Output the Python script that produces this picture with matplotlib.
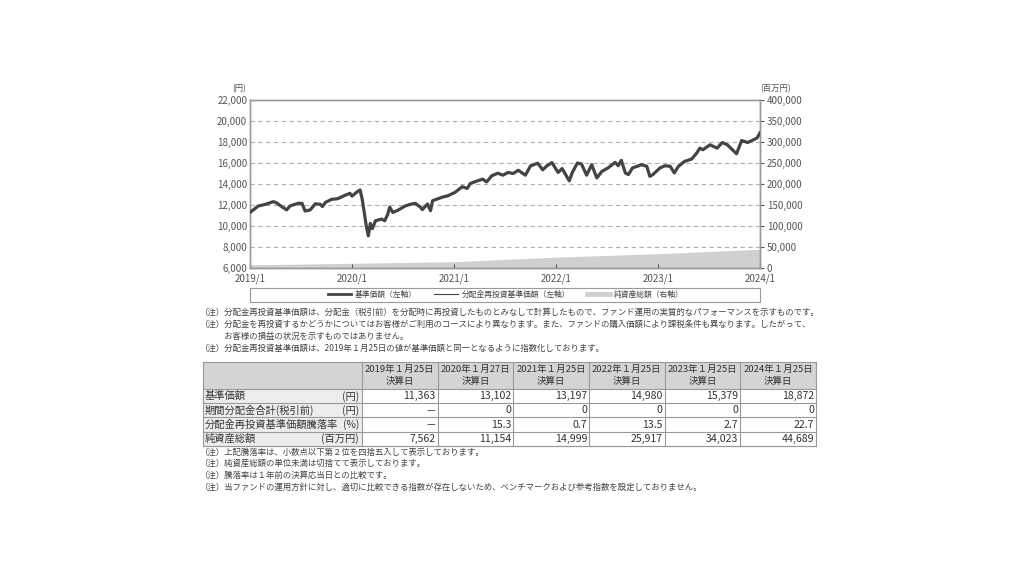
import numpy as np
import matplotlib.pyplot as plt
from matplotlib.patches import Rectangle
from matplotlib.lines import Line2D

plt.rcParams['font.family'] = ['Noto Sans CJK JP', 'DejaVu Sans']

# base price (yen); x in decimal years
t_nav = [2019.01, 2019.08, 2019.15, 2019.23, 2019.26, 2019.31, 2019.36, 2019.39, 2019.47, 2019.51,
         2019.54, 2019.59, 2019.64, 2019.69, 2019.71, 2019.74, 2019.80, 2019.86, 2019.93, 2019.98,
         2020.00, 2020.06, 2020.08, 2020.10, 2020.12, 2020.14, 2020.16, 2020.18, 2020.20, 2020.23,
         2020.29, 2020.32, 2020.35, 2020.37, 2020.40, 2020.45, 2020.52, 2020.57, 2020.62, 2020.67,
         2020.69, 2020.74, 2020.77, 2020.79, 2020.88, 2020.94, 2021.01, 2021.08, 2021.13, 2021.16,
         2021.23, 2021.28, 2021.32, 2021.37, 2021.43, 2021.48, 2021.53, 2021.58, 2021.63, 2021.70,
         2021.75, 2021.82, 2021.87, 2021.91, 2021.96, 2022.02, 2022.06, 2022.13, 2022.16, 2022.21,
         2022.25, 2022.30, 2022.35, 2022.40, 2022.45, 2022.51, 2022.58, 2022.61, 2022.64, 2022.68,
         2022.71, 2022.75, 2022.84, 2022.89, 2022.92, 2022.95, 2023.02, 2023.07, 2023.12, 2023.16,
         2023.20, 2023.26, 2023.33, 2023.38, 2023.41, 2023.44, 2023.51, 2023.58, 2023.63, 2023.68,
         2023.73, 2023.77, 2023.82, 2023.88, 2023.92, 2023.97, 2024.00]
nav = [11363, 11900, 12060, 12320, 12200, 11850, 11530, 11900, 12160, 12160,
       11430, 11530, 12120, 12060, 11850, 12250, 12540, 12600, 12920, 13110,
       12850, 13330, 13430, 12550, 11300, 10000, 9060, 10250, 9750, 10500,
       10660, 10500, 11100, 11800, 11290, 11500, 11900, 12060, 12160, 11800,
       11560, 12100, 11460, 12410, 12730, 12880, 13200, 13740, 13580, 14050,
       14300, 14460, 14200, 14780, 15030, 14840, 15100, 15000, 15310, 14840,
       15720, 15980, 15350, 15720, 16040, 15100, 15470, 14300, 15100, 16000,
       15900, 14840, 15840, 14580, 15200, 15530, 16060, 15740, 16250, 15050,
       14900, 15530, 15840, 15680, 14730, 14900, 15530, 15740, 15680, 15050,
       15680, 16150, 16380, 16950, 17420, 17260, 17730, 17420, 17950, 17730,
       17260, 16880, 18140, 17950, 18140, 18370, 18872]

# net assets (million yen)
t_assets = [2019.0, 2020.0, 2021.0, 2022.0, 2023.0, 2024.0]
assets = [7562, 11154, 14999, 25917, 34023, 44689]

# table
col_dates = ['2019年１月25日', '2020年１月27日', '2021年１月25日', '2022年１月25日', '2023年１月25日', '2024年１月25日']
row_labels = ['基準価額', '期間分配金合計(税引前)', '分配金再投資基準価額騰落率', '純資産総額']
row_units = ['(円)', '(円)', '(%)', '(百万円)']
row_nav = ['11,363', '13,102', '13,197', '14,980', '15,379', '18,872']
row_dist = ['－', '0', '0', '0', '0', '0']
row_chg = ['－', '15.3', '0.7', '13.5', '2.7', '22.7']
row_assets = ['7,562', '11,154', '14,999', '25,917', '34,023', '44,689']

notes_top = ['（注）分配金再投資基準価額は、分配金（税引前）を分配時に再投資したものとみなして計算したもので、ファンド運用の実質的なパフォーマンスを示すものです。',
             '（注）分配金を再投資するかどうかについてはお客様がご利用のコースにより異なります。また、ファンドの購入価額により課税条件も異なります。したがって、',
             '　　　お客様の損益の状況を示すものではありません。',
             '（注）分配金再投資基準価額は、2019年１月25日の値が基準価額と同一となるように指数化しております。']
notes_bottom = ['（注）上記騰落率は、小数点以下第２位を四捨五入して表示しております。',
                '（注）純資産総額の単位未満は切捨てて表示しております。',
                '（注）騰落率は１年前の決算応当日との比較です。',
                '（注）当ファンドの運用方針に対し、適切に比較できる指数が存在しないため、ベンチマークおよび参考指数を設定しておりません。']

W, H = 1024, 576
fig = plt.figure(figsize=(10.24, 5.76), dpi=100)

# overlay in pixel coords for boxes and text
ov = fig.add_axes([0, 0, 1, 1])
ov.set_xlim(0, W)
ov.set_ylim(H, 0)
ov.axis('off')

ax = fig.add_axes([250 / W, (H - 268) / H, 510 / W, 168 / H])
ax2 = ax.twinx()
ax2.fill_between(t_assets, 0, assets, color='#d0d0d0', lw=0, zorder=1)
ax2.set_ylim(0, 400000)
ax2.set_yticks(np.arange(0, 400001, 50000))
ax2.set_yticklabels(['0'] + ['{:,}'.format(v) for v in range(50000, 400001, 50000)])
ax.set_zorder(ax2.get_zorder() + 1)
ax.patch.set_visible(False)

ax.plot(t_nav, nav, color='#444444', lw=2.3, zorder=3)
ax.set_xlim(2019, 2024)
ax.set_ylim(6000, 22000)
ax.set_yticks(np.arange(6000, 22001, 2000))
ax.set_yticklabels(['{:,}'.format(v) for v in range(6000, 22001, 2000)])
ax.set_xticks([2019, 2020, 2021, 2022, 2023, 2024])
ax.set_xticklabels(['2019/1', '2020/1', '2021/1', '2022/1', '2023/1', '2024/1'])
for v in range(8000, 20001, 2000):
    ax.axhline(v, color='#b0b0b0', lw=0.8, ls=(0, (4, 3)), zorder=2)

for a in (ax, ax2):
    for s in a.spines.values():
        s.set_color('#999999')
        s.set_linewidth(1.0)
    a.tick_params(labelsize=7, colors='#555555', length=3, width=0.8, pad=2)
ax.tick_params(axis='y', length=0)
ax.tick_params(axis='x', direction='in', pad=4)
ax2.tick_params(axis='y', direction='out')

ov.text(239, 89, '(円)', fontsize=6, color='#555555', ha='center', va='center')
ov.text(776, 89, '(百万円)', fontsize=6, color='#555555', ha='center', va='center')

# legend
ov.add_patch(Rectangle((250, 288), 510, 14, fill=False, ec='#999999', lw=0.8))
handles = [Line2D([], [], color='#444444', lw=2.0),
           Line2D([], [], color='#444444', lw=0.8),
           Line2D([], [], color='#d0d0d0', lw=3.5)]
fig.legend(handles, ['基準価額（左軸）', '分配金再投資基準価額（左軸）', '純資産総額（右軸）'],
           loc='center', bbox_to_anchor=(506 / W, 1 - 295 / H), ncol=3, frameon=False,
           fontsize=5.6, handlelength=3.0, handletextpad=0.5, columnspacing=2.2,
           labelcolor='#444444')

for i, s in enumerate(notes_top):
    ov.text(199, 312 + i * 12, s, fontsize=6.05, color='#444444', va='center')

# table
x0, x1 = 203, 362
cw = (816 - x1) / 6
y_head, y_rows = 362, 389
rh = 14.2
ov.add_patch(Rectangle((x0, y_head), 816 - x0, y_rows - y_head, fc='#d4d4d4', ec='none'))
ov.add_patch(Rectangle((x0, y_rows), x1 - x0, rh * 4, fc='#ededed', ec='none'))
for j, d in enumerate(col_dates):
    cx = x1 + cw * (j + 0.5)
    ov.text(cx, 369, d, fontsize=6.8, color='#333333', ha='center', va='center')
    ov.text(cx, 381, '決算日', fontsize=6.8, color='#333333', ha='center', va='center')
rows = [row_nav, row_dist, row_chg, row_assets]
for i in range(4):
    cy = y_rows + rh * (i + 0.5)
    ov.text(x0 + 2, cy, row_labels[i], fontsize=7.4, color='#333333', va='center')
    ov.text(x1 - 3, cy, row_units[i], fontsize=7.4, color='#333333', ha='right', va='center')
    for j, v in enumerate(rows[i]):
        ov.text(x1 + cw * (j + 1) - 2, cy, v, fontsize=7.6, color='#333333', ha='right', va='center')
ytop, ybot = y_head, y_rows + rh * 4
ov.plot([x0, 816], [ytop, ytop], color='#999999', lw=0.8)
ov.plot([x0, 816], [ybot, ybot], color='#999999', lw=0.8)
for i in range(5):
    yy = y_rows + rh * i
    ov.plot([x0, 816], [yy, yy], color='#999999', lw=0.8)
for xx in [x0] + [x1 + cw * j for j in range(7)]:
    ov.plot([xx, xx], [ytop, ybot], color='#999999', lw=0.8)

for i, s in enumerate(notes_bottom):
    ov.text(199, 452 + i * 11.7, s, fontsize=6.05, color='#444444', va='center')

fig.savefig('out.png', dpi=100)
